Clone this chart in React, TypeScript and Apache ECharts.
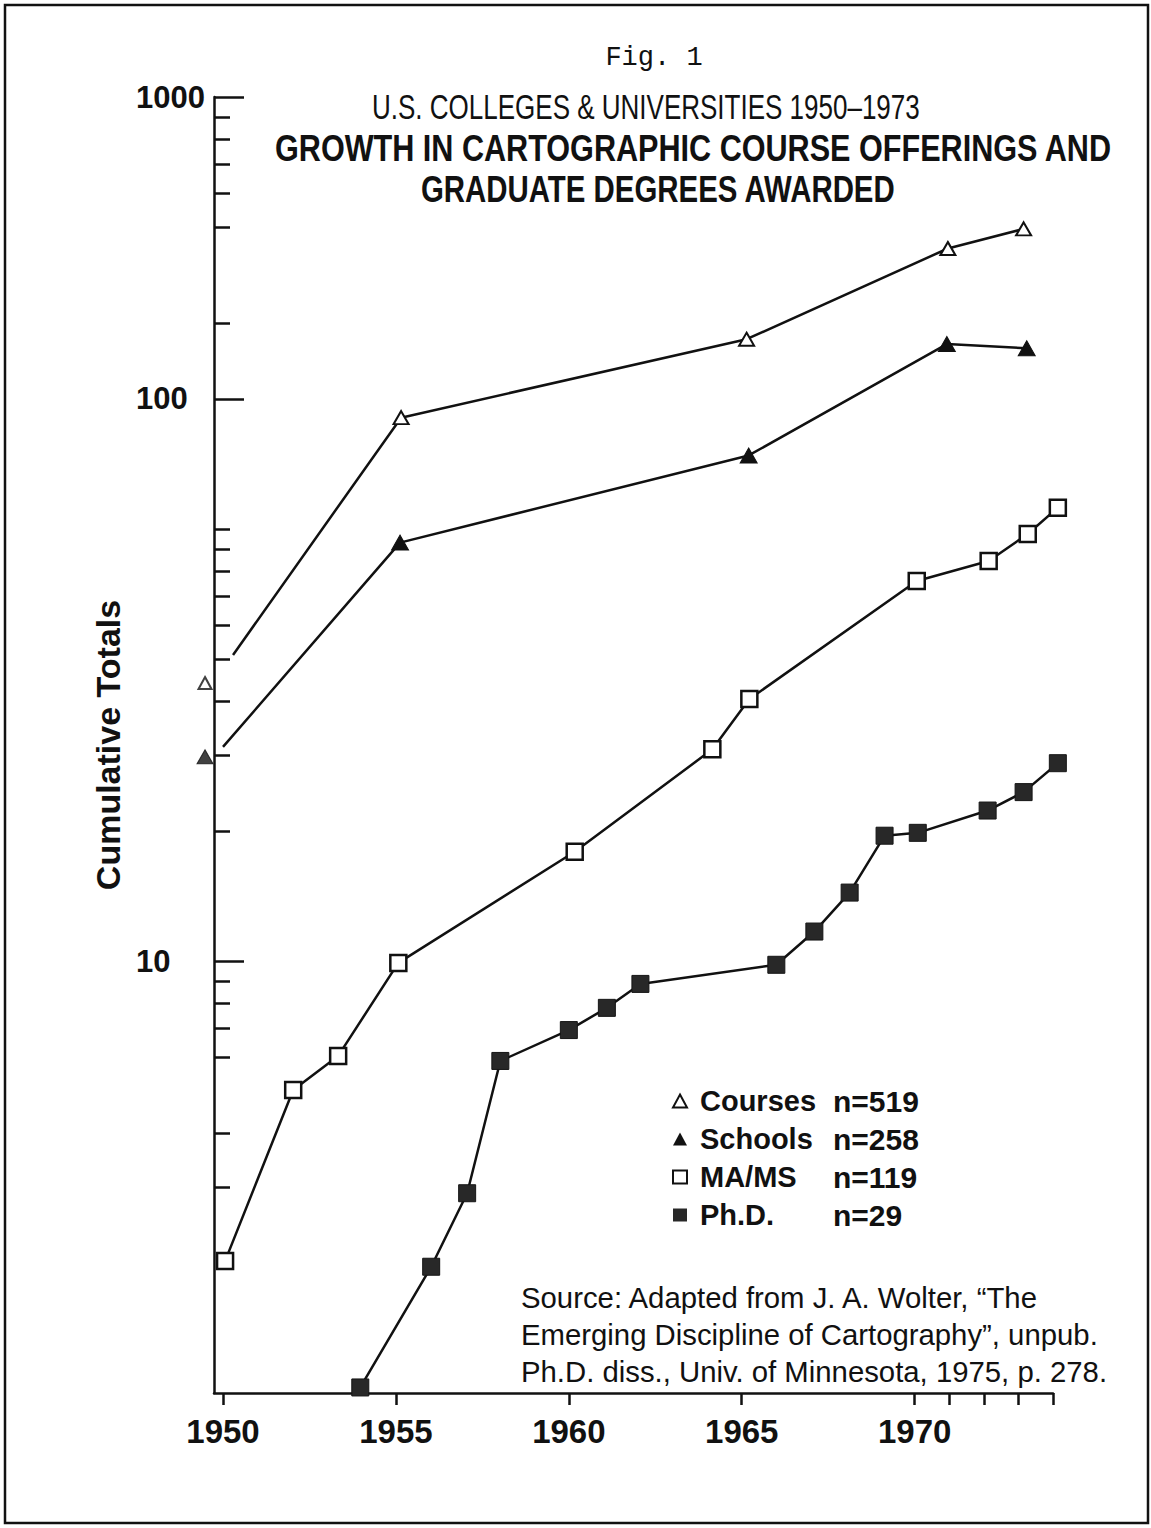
import React, { useEffect, useRef } from "react";
import * as echarts from "echarts";

// ---------- data (true log scale: 1 .. 1000) ----------
// Courses & Schools: 1950 markers sit left of the axis, detached from their lines
const earlyYear = 1949.48;
const courses1950 = 44;
const schools1950 = 29.7;

const coursesYears = [1950.29, 1955.15, 1965.14, 1970.96, 1973.15];
const coursesValues = [51.1, 181, 275, 446, 495];

const schoolsYears = [1950.0, 1955.12, 1965.2, 1970.93, 1973.24];
const schoolsValues = [31.3, 93, 148, 268, 262];

const maYears = [1950.06, 1952.03, 1953.33, 1955.07, 1960.17, 1964.15, 1965.22, 1970.06, 1972.14, 1973.27, 1974.14];
const maValues = [2.02, 5.03, 6.03, 9.9, 17.9, 30.9, 40.4, 75.8, 84.3, 97.4, 112];

const phdYears = [1953.97, 1956.02, 1957.06, 1958.02, 1960.0, 1961.1, 1962.07, 1966.0, 1967.1, 1968.12, 1969.13, 1970.09, 1972.11, 1973.15, 1974.14];
const phdValues = [1.03, 1.96, 2.9, 5.87, 6.92, 7.79, 8.85, 9.8, 11.7, 14.4, 19.5, 19.8, 22.3, 24.6, 28.7];

// ---------- axes ----------
const xMin = 1949.74;
const xMax = 1974;
const xTickYears = [1950, 1955, 1960, 1965, 1970, 1971, 1972, 1973, 1974];
const xLabelYears = [1950, 1955, 1960, 1965, 1970];

const yMin = 1;
const yMax = 1000;
// long ticks with labels exactly as printed on the original drawing
const yLongTicks = [10, 200, 1000];
const yLongLabels = ["10", "100", "1000"];
const yShortTicks = [3, 4, 6, 7, 8, 9, 20, 30, 40, 50, 60, 70, 80, 90, 100, 300, 500, 600, 700, 800, 900];

// ---------- legend ----------
const legendNames = ["Courses", "Schools", "MA/MS", "Ph.D."];
const legendCounts = ["n=519", "n=258", "n=119", "n=29"];

// ---------- texts ----------
const figLabel = "Fig. 1";
const titleLines = [
  "U.S. COLLEGES & UNIVERSITIES 1950–1973",
  "GROWTH IN CARTOGRAPHIC COURSE OFFERINGS AND",
  "GRADUATE DEGREES AWARDED",
];
const sourceLines = [
  "Source: Adapted from J. A. Wolter, “The",
  "Emerging Discipline of Cartography”, unpub.",
  "Ph.D. diss., Univ. of Minnesota, 1975, p. 278.",
];
const yAxisTitle = "Cumulative Totals";

const INK = "#111";
const FONT = '"Liberation Sans", Arial, Helvetica, sans-serif';

function measure(text: string, font: string): number {
  const ctx = document.createElement("canvas").getContext("2d");
  if (!ctx) return text.length * 10;
  ctx.font = font;
  return ctx.measureText(text).width;
}

function fittedText(text: string, left: number, cy: number, width: number, size: number, weight: string) {
  const font = `${weight} ${size}px ${FONT}`;
  const w = measure(text, font);
  return {
    type: "text",
    x: left,
    y: cy,
    scaleX: width / w,
    style: {
      text,
      x: 0,
      y: 0,
      font,
      fill: INK,
      align: "left",
      verticalAlign: "middle",
      textAlign: "left",
      textVerticalAlign: "middle",
    },
  };
}

export default function App() {
  const ref = useRef<HTMLDivElement>(null);

  useEffect(() => {
    if (!ref.current) return;
    const chart = echarts.init(ref.current, undefined, { renderer: "svg" });

    const srcFont = `normal 25px ${FONT}`;
    const srcSize = (25 * 577) / measure(sourceLines[1], srcFont);

    const graphic: any[] = [
      {
        type: "rect",
        shape: { x: 5, y: 5, width: 1143, height: 1518 },
        style: { fill: "none", stroke: INK, lineWidth: 2.5 },
      },
      {
        type: "text",
        x: 654,
        y: 58,
        style: {
          text: figLabel,
          x: 0,
          y: 0,
          font: `normal 27px "Liberation Mono", "DejaVu Sans Mono", monospace`,
          fill: INK,
          align: "center",
          verticalAlign: "middle",
          textAlign: "center",
          textVerticalAlign: "middle",
        },
      },
      fittedText(titleLines[0], 372, 107, 548, 35, "normal"),
      fittedText(titleLines[1], 275, 148, 838, 37, "bold"),
      fittedText(titleLines[2], 421, 189, 475, 37, "bold"),
      ...sourceLines.map((t, i) => ({
        type: "text",
        x: 521,
        y: 1297 + i * 37,
        style: {
          text: t,
          x: 0,
          y: 0,
          font: `normal ${srcSize.toFixed(2)}px ${FONT}`,
          fill: INK,
          align: "left",
          verticalAlign: "middle",
          textAlign: "left",
          textVerticalAlign: "middle",
        },
      })),
    ];

    const lineStyle = { color: INK, width: 2.5 };
    const openStyle = { color: "#fff", borderColor: INK, borderWidth: 2 };
    const filledStyle = { color: INK, borderColor: INK, borderWidth: 1 };
    const phdStyle = { color: "#282828", borderColor: "#151515", borderWidth: 1 };

    const lineData = (xs: number[], ys: number[], hideFirst: boolean) =>
      xs.map((x, i) => (hideFirst && i === 0 ? { value: [x, ys[i]], symbol: "none" } : [x, ys[i]]));

    const legendIcons = ["triangle", "triangle", "rect", "rect"];
    const legendStyles = [
      { color: "#fff", borderColor: INK, borderWidth: 2 },
      { color: INK, borderColor: INK, borderWidth: 0 },
      { color: "#fff", borderColor: INK, borderWidth: 2 },
      { color: "#282828", borderColor: "#282828", borderWidth: 0 },
    ];

    const option: any = {
      animation: false,
      backgroundColor: "#fff",
      graphic,
      grid: { left: 214, top: 97, width: 839, height: 1296, outerBoundsMode: "none" },
      legend: {
        orient: "vertical",
        left: 667,
        top: 1081,
        itemGap: 8,
        itemWidth: 14,
        itemHeight: 13,
        selectedMode: false,
        data: legendNames.map((n, i) => ({ name: n, icon: legendIcons[i], itemStyle: legendStyles[i] })),
        formatter: (name: string) => {
          const i = legendNames.indexOf(name);
          return `{s|}{a|${name}}{b|${legendCounts[i]}}`;
        },
        textStyle: {
          color: INK,
          fontFamily: FONT,
          fontWeight: "bold",
          fontSize: 29,
          rich: {
            s: { width: 8, lineHeight: 29 },
            a: { width: 133, fontSize: 29, fontWeight: "bold", fontFamily: FONT, color: INK, lineHeight: 29 },
            b: { fontSize: 30, fontWeight: "bold", fontFamily: FONT, color: INK, lineHeight: 29 },
          },
        },
      },
      xAxis: {
        type: "value",
        min: xMin,
        max: xMax,
        splitLine: { show: false },
        axisLine: { show: true, lineStyle: { color: INK, width: 2.5 } },
        axisTick: { show: true, length: 12, customValues: xTickYears, lineStyle: { color: INK, width: 2.5 } },
        axisLabel: {
          customValues: xLabelYears,
          formatter: (v: number) => String(Math.round(v)),
          margin: 22,
          color: INK,
          fontFamily: FONT,
          fontWeight: "bold",
          fontSize: 33,
        },
      },
      yAxis: [
        {
          type: "log",
          logBase: 10,
          position: "left",
          offset: 0,
          min: yMin,
          max: yMax,
          name: yAxisTitle,
          nameLocation: "middle",
          nameGap: 86,
          nameTextStyle: { color: INK, fontFamily: FONT, fontWeight: "bold", fontSize: 34 },
          splitLine: { show: false },
          axisLine: { show: true, lineStyle: { color: INK, width: 2.5 } },
          axisTick: { show: true, inside: true, length: 30, customValues: yLongTicks, lineStyle: { color: INK, width: 2.5 } },
          axisLabel: {
            customValues: yLongTicks,
            formatter: (v: number) => {
              const i = yLongTicks.findIndex((t) => Math.abs(Math.log10(t) - Math.log10(v)) < 0.01);
              return i >= 0 ? yLongLabels[i] : "";
            },
            align: "left",
            margin: 78,
            color: INK,
            fontFamily: FONT,
            fontWeight: "bold",
            fontSize: 31,
          },
        },
        {
          type: "log",
          logBase: 10,
          position: "left",
          offset: 0,
          min: yMin,
          max: yMax,
          splitLine: { show: false },
          axisLine: { show: false },
          axisLabel: { show: false },
          axisTick: { show: true, inside: true, length: 16, customValues: yShortTicks, lineStyle: { color: INK, width: 2.5 } },
        },
      ],
      series: [
        {
          name: "Courses",
          type: "line",
          data: lineData(coursesYears, coursesValues, true),
          symbol: "triangle",
          symbolSize: [15, 13],
          itemStyle: openStyle,
          lineStyle,
          clip: false,
          z: 3,
        },
        {
          name: "Courses",
          type: "scatter",
          data: [[earlyYear, courses1950]],
          symbol: "triangle",
          symbolSize: [13, 12],
          itemStyle: openStyle,
          clip: false,
          z: 3,
        },
        {
          name: "Schools",
          type: "line",
          data: lineData(schoolsYears, schoolsValues, true),
          symbol: "triangle",
          symbolSize: [17, 15],
          itemStyle: filledStyle,
          lineStyle,
          clip: false,
          z: 3,
        },
        {
          name: "Schools",
          type: "scatter",
          data: [[earlyYear, schools1950]],
          symbol: "triangle",
          symbolSize: [16, 14],
          itemStyle: filledStyle,
          clip: false,
          z: 3,
        },
        {
          name: "MA/MS",
          type: "line",
          data: lineData(maYears, maValues, false),
          symbol: "rect",
          symbolSize: 16,
          itemStyle: { color: "#fff", borderColor: INK, borderWidth: 2.5 },
          lineStyle,
          clip: false,
          z: 3,
        },
        {
          name: "Ph.D.",
          type: "line",
          data: lineData(phdYears, phdValues, false),
          symbol: "rect",
          symbolSize: 17,
          itemStyle: phdStyle,
          lineStyle,
          clip: false,
          z: 3,
        },
      ],
    };

    chart.setOption(option);
    return () => chart.dispose();
  }, []);

  return (
    <div
      ref={ref}
      style={{ position: "absolute", left: 0, top: 0, width: 1151, height: 1528, background: "#fff" }}
    />
  );
}
